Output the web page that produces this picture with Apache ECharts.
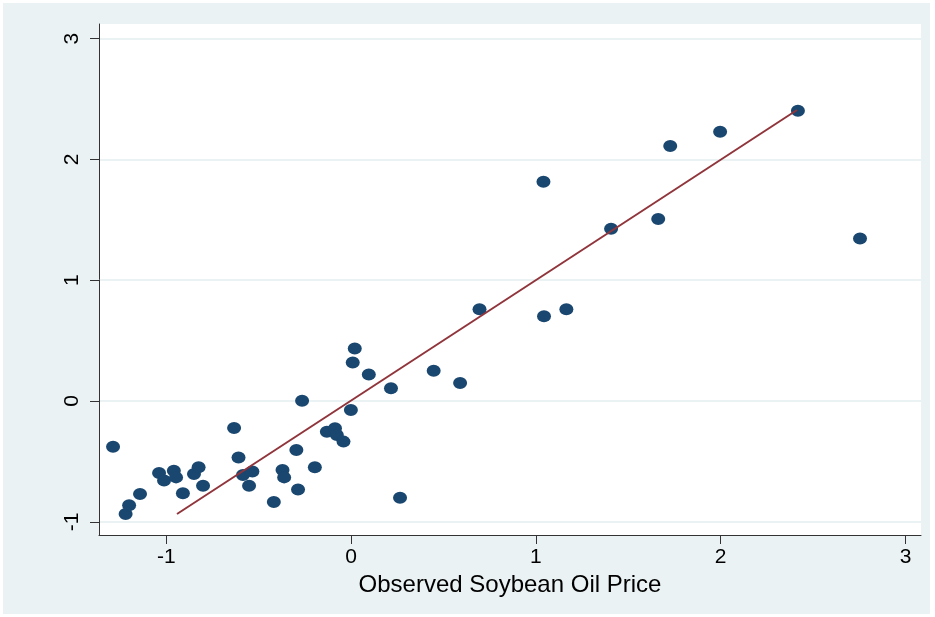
<!DOCTYPE html>
<html><head><meta charset="utf-8">
<script src="https://cdn.jsdelivr.net/npm/echarts@6/dist/echarts.min.js"></script>
<style>html,body{margin:0;padding:0;background:#fff}#c{width:935px;height:617px}</style>
</head><body><div id="c"></div><script>
// Observed soybean oil price (x) vs predicted (y)
const xValues = [-1.288,-1.220,-1.201,-1.142,-1.039,-1.012,-0.959,-0.947,-0.910,-0.850,-0.825,-0.801,
  -0.633,-0.609,-0.585,-0.552,-0.534,-0.418,-0.371,-0.362,-0.296,-0.287,-0.265,-0.196,-0.131,-0.087,-0.077,-0.041,
  -0.001,0.009,0.020,0.096,0.216,0.265,0.447,0.590,0.695,1.041,1.044,1.165,1.407,1.662,1.727,1.997,2.418,2.754];
const yValues = [-0.379,-0.935,-0.863,-0.770,-0.596,-0.657,-0.577,-0.632,-0.764,-0.604,-0.549,-0.702,
  -0.224,-0.467,-0.613,-0.702,-0.584,-0.836,-0.571,-0.632,-0.406,-0.732,0.002,-0.549,-0.254,-0.226,-0.281,-0.336,
  -0.075,0.319,0.435,0.220,0.105,-0.801,0.250,0.149,0.759,1.815,0.701,0.759,1.426,1.507,2.111,2.229,2.403,1.346];
const fitX = [-0.942, 2.413];
const fitY = [-0.935, 2.409];
const xTicks = [-1, 0, 1, 2, 3];
const yTicks = [-1, 0, 1, 2, 3];
const xTitle = 'Observed Soybean Oil Price';

const FONT = 'Liberation Sans, Arial, sans-serif';
const chart = echarts.init(document.getElementById('c'), null, {renderer: 'canvas'});
chart.setOption({
  animation: false,
  backgroundColor: '#ffffff',
  graphic: [{
    type: 'rect', z: -100, silent: true,
    shape: {x: 3, y: 3, width: 927, height: 611},
    style: {fill: '#EAF2F3'}
  }],
  grid: {left: 99, right: 14, top: 24, bottom: 82, show: true, backgroundColor: '#ffffff', borderWidth: 0},
  xAxis: {
    type: 'value', min: -1.364, max: 3.084,
    name: xTitle, nameLocation: 'middle', nameGap: 32,
    nameTextStyle: {fontSize: 24, color: '#000', fontFamily: FONT},
    axisLine: {show: true, onZero: false, lineStyle: {color: '#333', width: 1}},
    axisTick: {show: true, length: 9, customValues: xTicks, lineStyle: {color: '#333'}},
    axisLabel: {customValues: xTicks, fontSize: 21, color: '#000', fontFamily: FONT, margin: 12},
    splitLine: {show: false}
  },
  yAxis: {
    type: 'value', min: -1.109, max: 3.121,
    axisLine: {show: true, onZero: false, lineStyle: {color: '#333', width: 1}},
    axisTick: {show: true, length: 9, customValues: yTicks, lineStyle: {color: '#333'}},
    axisLabel: {customValues: yTicks, rotate: 90, fontSize: 21, color: '#000', fontFamily: FONT, margin: 16},
    splitLine: {show: true, lineStyle: {color: '#EAF2F3', width: 2}}
  },
  series: [{
    type: 'scatter',
    data: xValues.map((x, i) => [x, yValues[i]]),
    symbol: 'circle', symbolSize: [14, 12],
    itemStyle: {color: '#1A476F', opacity: 1},
    z: 2
  }, {
    type: 'line',
    data: fitX.map((x, i) => [x, fitY[i]]),
    showSymbol: false, symbol: 'none',
    lineStyle: {color: '#90353B', width: 2},
    z: 3
  }]
});
</script></body></html>
